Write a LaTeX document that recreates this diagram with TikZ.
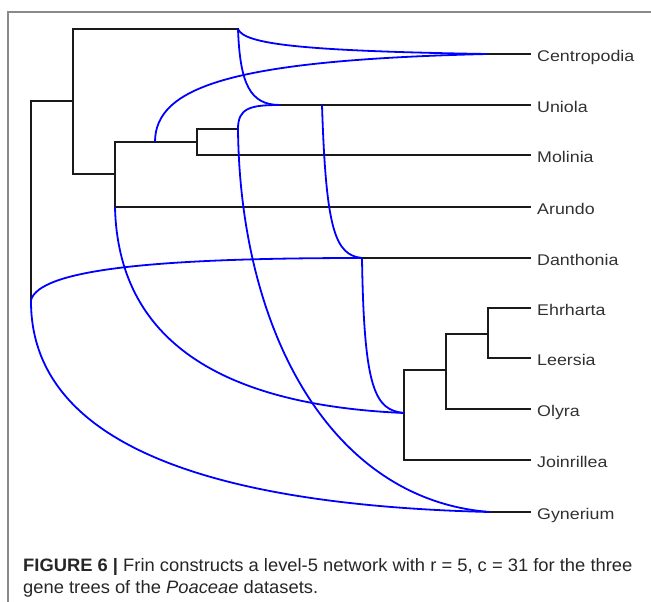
\documentclass[tikz,border=0pt]{standalone}
\usepackage{fontspec}
\setmainfont{Liberation Sans}
\newfontfamily\labfont[FakeStretch=1.15]{Liberation Sans}
\newfontfamily\capfont[FakeStretch=1.02]{Liberation Sans}
\definecolor{treeblack}{HTML}{1A1A1A}
\definecolor{framegray}{HTML}{8A8A8A}
\tikzset{
  treeedge/.style={draw=treeblack, line width=1.9pt, line cap=rect},
  retic/.style={draw=blue, line width=1.8pt},
  leaflab/.style={anchor=base west, inner sep=0pt, font=\labfont\fontsize{15.5}{18}\selectfont, text=treeblack!90},
  captxt/.style={anchor=base west, inner sep=0pt, font=\capfont\fontsize{18}{21}\selectfont, text=black!85},
  frameline/.style={draw=framegray, line width=1.1pt}
}
\begin{document}
\begin{tikzpicture}[x=1pt,y=-1pt]
\useasboundingbox (0,0) rectangle (651,602);
% frame
\coordinate (f1) at (8,602);
\coordinate (f2) at (8,12);
\coordinate (f3) at (651,12);
\draw[frameline] (f1) -- (f2) -- (f3);

% internal tree nodes
\coordinate (root) at (31,101);
\coordinate (rootb) at (31,300);
\coordinate (A) at (73,101);
\coordinate (At) at (73,29);
\coordinate (Ab) at (73,174);
\coordinate (Ar) at (238,29);
\coordinate (B) at (115,174);
\coordinate (Bt) at (115,142);
\coordinate (Bb) at (115,207);
\coordinate (Bh) at (155,142);
\coordinate (C) at (197,142);
\coordinate (Ct) at (197,129);
\coordinate (Cb) at (197,155);
\coordinate (Cr) at (238,129);
\coordinate (Un) at (280,105);
\coordinate (Uh) at (322,105);
\coordinate (Ce) at (487,54);
\coordinate (Da) at (362,258);
\coordinate (D) at (404,413);
\coordinate (Dt) at (404,370);
\coordinate (Db) at (404,460);
\coordinate (E) at (446,370);
\coordinate (Et) at (446,334);
\coordinate (Eb) at (446,409);
\coordinate (F) at (488,334);
\coordinate (Ft) at (488,308);
\coordinate (Fb) at (488,358);
\coordinate (Gy) at (490,512);

% leaves
\coordinate (lCe) at (530,54);
\coordinate (lUn) at (530,105);
\coordinate (lMo) at (530,155);
\coordinate (lAr) at (530,207);
\coordinate (lDa) at (530,258);
\coordinate (lEh) at (530,308);
\coordinate (lLe) at (530,358);
\coordinate (lOl) at (530,409);
\coordinate (lJo) at (530,460);
\coordinate (lGy) at (530,512);

\node[leaflab] (tCe) at (537,61.5) {Centropodia};
\node[leaflab] (tUn) at (537,112.5) {Uniola};
\node[leaflab] (tMo) at (537,162.5) {Molinia};
\node[leaflab] (tAr) at (537,214.5) {Arundo};
\node[leaflab] (tDa) at (537,265.5) {Danthonia};
\node[leaflab] (tEh) at (537,315.5) {Ehrharta};
\node[leaflab] (tLe) at (537,365.5) {Leersia};
\node[leaflab] (tOl) at (537,416.5) {Olyra};
\node[leaflab] (tJo) at (537,467.5) {Joinrillea};
\node[leaflab] (tGy) at (537,519.5) {Gynerium};

% black tree edges
\draw[treeedge] (rootb) -- (root) -- (A);
\draw[treeedge] (Ar) -- (At) -- (Ab) -- (B);
\draw[treeedge] (C) -- (Bt) -- (Bb) -- (lAr);
\draw[treeedge] (Cr) -- (Ct) -- (Cb) -- (lMo);
\draw[treeedge] (Un) -- (lUn);
\draw[treeedge] (Ce) -- (lCe);
\draw[treeedge] (Da) -- (lDa);
\draw[treeedge] (E) -- (Dt) -- (Db) -- (lJo);
\draw[treeedge] (F) -- (Et) -- (Eb) -- (lOl);
\draw[treeedge] (lEh) -- (Ft) -- (Fb) -- (lLe);
\draw[treeedge] (Gy) -- (lGy);

% reticulation edges (blue)
\draw[retic] (Ar) .. controls (244,44) and (300,51) .. (Ce);
\draw[retic] (Ar) .. controls (240,84) and (250,105) .. (Un);
\draw[retic] (Bh) .. controls (155,86) and (235,60) .. (Ce);
\draw[retic] (Cr) .. controls (238,108) and (250,105) .. (Un);
\draw[retic] (Cr) .. controls (240,330) and (330,500) .. (Gy);
\draw[retic] (Bb) .. controls (118,340) and (220,405) .. (D);
\draw[retic] (rootb) .. controls (40,270) and (150,258) .. (Da);
\draw[retic] (rootb) .. controls (30,440) and (200,505) .. (Gy);
\draw[retic] (Uh) .. controls (326,230) and (335,255) .. (Da);
\draw[retic] (Da) .. controls (364,390) and (375,410) .. (D);

% caption
\node[captxt] (cap1) at (23,571) {\textbf{FIGURE 6 |} Frin constructs a level-5 network with r = 5, c = 31 for the three};
\node[captxt] (cap2) at (23,593) {gene trees of the \textit{Poaceae} datasets.};
\end{tikzpicture}
\end{document}
